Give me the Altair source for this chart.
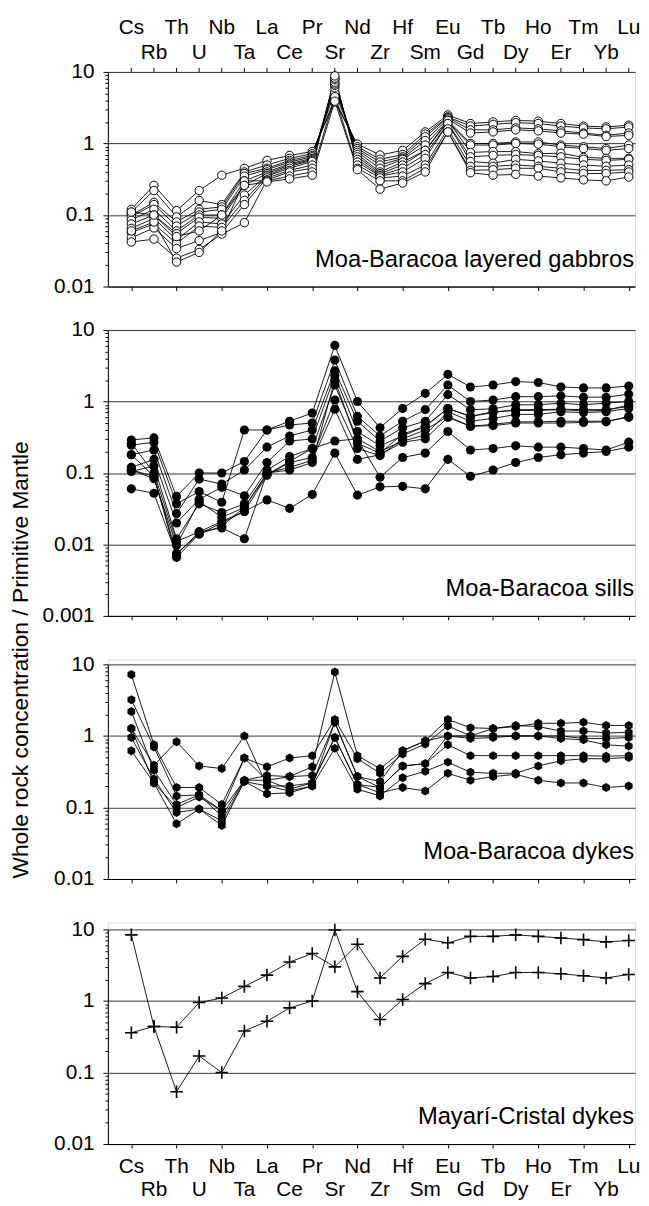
import altair as alt
import pandas as pd

elements = ["Cs", "Rb", "Th", "U", "Nb", "Ta", "La", "Ce", "Pr", "Sr", "Nd", "Zr",
            "Hf", "Sm", "Eu", "Gd", "Tb", "Dy", "Ho", "Er", "Tm", "Yb", "Lu"]
positions = list(range(1, 24))

# Moa-Baracoa layered gabbros (open circles)
gabbros = {
    "g1": [0.12, 0.26, 0.115, 0.22, 0.36, 0.45, 0.58, 0.68, 0.77, 3.8, 0.98, 0.69, 0.8, 1.45, 2.5, 1.9, 2.0, 2.1, 2.05, 1.9, 1.75, 1.7, 1.8],
    "g2": [0.11, 0.22, 0.094, 0.16, 0.14, 0.4, 0.5, 0.62, 0.72, 4.2, 0.9, 0.6, 0.7, 1.35, 2.35, 1.75, 1.85, 1.95, 1.9, 1.75, 1.65, 1.6, 1.7],
    "g3": [0.1, 0.15, 0.08, 0.12, 0.13, 0.38, 0.45, 0.58, 0.68, 5.2, 0.85, 0.55, 0.65, 1.24, 2.3, 1.55, 1.55, 1.65, 1.6, 1.5, 1.4, 1.3, 1.4],
    "g4": [0.095, 0.14, 0.07, 0.11, 0.12, 0.35, 0.43, 0.55, 0.65, 6.0, 0.8, 0.5, 0.62, 1.1, 2.2, 1.4, 1.45, 1.55, 1.5, 1.4, 1.35, 1.25, 1.3],
    "g5": [0.085, 0.12, 0.06, 0.1, 0.1, 0.3, 0.4, 0.52, 0.62, 6.5, 0.75, 0.45, 0.6, 0.95, 2.1, 1.0, 1.0, 1.05, 1.05, 0.95, 0.9, 0.85, 0.95],
    "g6": [0.075, 0.1, 0.055, 0.093, 0.09, 0.26, 0.38, 0.5, 0.6, 6.8, 0.7, 0.4, 0.55, 0.8, 2.0, 0.95, 0.95, 1.0, 0.98, 0.9, 0.85, 0.8, 0.85],
    "g7": [0.065, 0.09, 0.045, 0.08, 0.075, 0.19, 0.36, 0.48, 0.58, 7.2, 0.65, 0.38, 0.5, 0.8, 2.1, 0.75, 0.77, 0.77, 0.72, 0.73, 0.64, 0.62, 0.62],
    "g8": [0.057, 0.075, 0.04, 0.07, 0.067, 0.16, 0.35, 0.45, 0.56, 7.8, 0.6, 0.36, 0.45, 0.7, 1.9, 0.65, 0.68, 0.7, 0.68, 0.65, 0.6, 0.58, 0.6],
    "g9": [0.048, 0.066, 0.034, 0.044, 0.057, 0.14, 0.33, 0.42, 0.5, 8.2, 0.55, 0.35, 0.4, 0.62, 1.9, 0.56, 0.53, 0.6, 0.57, 0.53, 0.5, 0.48, 0.5],
    "g10": [0.042, 0.046, 0.025, 0.033, 0.054, 0.078, 0.31, 0.4, 0.45, 8.8, 0.5, 0.33, 0.35, 0.5, 1.6, 0.48, 0.48, 0.5, 0.48, 0.45, 0.42, 0.42, 0.43],
    "g11": [0.06, 0.08, 0.022, 0.03, 0.06, 0.3, 0.3, 0.35, 0.4, 4.5, 0.45, 0.3, 0.3, 0.45, 1.45, 0.42, 0.43, 0.45, 0.45, 0.4, 0.38, 0.38, 0.4],
    "g12": [0.11, 0.1, 0.05, 0.06, 0.1, 0.26, 0.29, 0.32, 0.36, 3.9, 0.43, 0.23, 0.28, 0.4, 1.45, 0.39, 0.36, 0.37, 0.35, 0.33, 0.31, 0.3, 0.34],
}

# Moa-Baracoa sills (filled circles)
sills = {
    "s1": [0.29, 0.31, 0.047, 0.1, 0.1, 0.145, 0.4, 0.53, 0.69, 6.1, 1.0, 0.43, 0.8, 1.3, 2.4, 1.6, 1.7, 1.9, 1.85, 1.6, 1.55, 1.55, 1.65],
    "s2": [0.245, 0.27, 0.037, 0.055, 0.039, 0.4, 0.4, 0.47, 0.5, 3.8, 0.62, 0.33, 0.53, 0.77, 1.7, 1.0, 1.05, 1.17, 1.17, 1.2, 1.15, 1.15, 1.27],
    "s3": [0.18, 0.21, 0.027, 0.082, 0.07, 0.11, 0.23, 0.33, 0.4, 2.7, 0.53, 0.28, 0.43, 0.53, 1.25, 0.77, 0.79, 0.9, 0.9, 0.95, 0.9, 0.95, 1.0],
    "s4": [0.12, 0.155, 0.02, 0.043, 0.063, 0.048, 0.14, 0.28, 0.3, 2.3, 0.38, 0.24, 0.33, 0.45, 0.8, 0.62, 0.7, 0.77, 0.77, 0.78, 0.77, 0.77, 0.85],
    "s5": [0.105, 0.125, 0.012, 0.037, 0.028, 0.037, 0.11, 0.17, 0.22, 1.7, 0.3, 0.2, 0.28, 0.34, 0.72, 0.53, 0.58, 0.66, 0.66, 0.72, 0.7, 0.72, 0.8],
    "s6": [0.26, 0.1, 0.011, 0.015, 0.021, 0.029, 0.093, 0.14, 0.165, 1.05, 0.22, 0.175, 0.3, 0.4, 0.62, 0.45, 0.46, 0.5, 0.5, 0.5, 0.51, 0.52, 0.62],
    "s7": [0.11, 0.083, 0.0097, 0.04, 0.024, 0.033, 0.1, 0.12, 0.15, 0.78, 0.155, 0.18, 0.27, 0.3, 0.6, 0.45, 0.48, 0.52, 0.52, 0.53, 0.53, 0.53, 0.6],
    "s8": [0.06, 0.052, 0.0072, 0.015, 0.017, 0.012, 0.1, 0.11, 0.14, 2.0, 0.26, 0.19, 0.35, 0.45, 0.8, 0.62, 0.72, 0.75, 0.75, 0.77, 0.74, 0.75, 0.9],
    "s9": [0.18, 0.09, 0.0066, 0.014, 0.018, 0.033, 0.095, 0.145, 0.22, 0.28, 0.3, 0.087, 0.165, 0.19, 0.38, 0.21, 0.22, 0.24, 0.23, 0.23, 0.22, 0.21, 0.27],
    "s10": [0.11, 0.09, 0.0075, 0.014, 0.02, 0.029, 0.042, 0.032, 0.05, 0.19, 0.049, 0.064, 0.065, 0.06, 0.155, 0.09, 0.11, 0.14, 0.165, 0.18, 0.19, 0.2, 0.23],
}

# Moa-Baracoa dykes (filled hexagons)
moa_dykes = {
    "d1": [7.2, 0.75, 0.19, 0.19, 0.11, 0.49, 0.24, 0.27, 0.37, 7.8, 0.53, 0.35, 0.62, 0.85, 1.7, 1.3, 1.27, 1.35, 1.5, 1.5, 1.55, 1.4, 1.4],
    "d2": [3.2, 0.7, 0.145, 0.15, 0.09, 0.49, 0.37, 0.49, 0.53, 1.7, 0.48, 0.3, 0.56, 0.77, 1.38, 1.0, 1.27, 1.4, 1.35, 1.17, 1.17, 1.1, 1.12],
    "d3": [2.2, 0.33, 0.11, 0.15, 0.075, 0.24, 0.28, 0.27, 0.28, 1.55, 0.27, 0.23, 0.62, 0.85, 1.0, 1.0, 1.0, 1.0, 1.0, 0.92, 0.88, 0.75, 0.72],
    "d4": [1.27, 0.39, 0.83, 0.38, 0.35, 1.0, 0.2, 0.2, 0.22, 0.95, 0.21, 0.19, 0.38, 0.41, 1.0, 0.92, 0.95, 1.0, 1.0, 1.0, 0.92, 0.92, 0.95],
    "d5": [0.95, 0.25, 0.085, 0.095, 0.056, 0.23, 0.2, 0.17, 0.2, 1.55, 0.27, 0.19, 0.38, 0.41, 0.75, 0.53, 0.53, 0.53, 0.53, 0.53, 0.53, 0.52, 0.53],
    "d6": [0.62, 0.22, 0.059, 0.095, 0.065, 0.23, 0.155, 0.16, 0.2, 0.67, 0.18, 0.145, 0.26, 0.32, 0.43, 0.31, 0.3, 0.3, 0.38, 0.45, 0.48, 0.48, 0.5],
    "d7": [1.27, 0.22, 0.1, 0.14, 0.09, 0.24, 0.24, 0.18, 0.22, 0.95, 0.21, 0.16, 0.19, 0.17, 0.3, 0.24, 0.27, 0.29, 0.24, 0.22, 0.22, 0.19, 0.2],
}

# Mayarí-Cristal dykes (crosses)
mayari_dykes = {
    "m1": [0.36, 0.44, 0.43, 0.95, 1.1, 1.6, 2.3, 3.5, 4.6, 3.0, 6.2, 2.1, 4.2, 7.3, 6.5, 8.0, 8.0, 8.4, 8.0, 7.6, 7.2, 6.7, 7.0],
    "m2": [8.4, 0.44, 0.054, 0.17, 0.1, 0.38, 0.52, 0.8, 1.0, 9.8, 1.35, 0.55, 1.05, 1.75, 2.5, 2.1, 2.2, 2.5, 2.5, 2.4, 2.25, 2.1, 2.35],
}

panel_labels = ["Moa-Baracoa layered gabbros", "Moa-Baracoa sills",
                "Moa-Baracoa dykes", "Mayarí-Cristal dykes"]
y_title = "Whole rock concentration / Primitive Mantle"

FONT = "Liberation Sans"
ELF = 21      # element label size
LAB = 21      # y tick label size
ANN = 24      # panel annotation size
W = 533
XDOM = [-0.037, 23.28]
DEC_TEST = "indexof([10,1,0.1,0.01,0.001], datum.value) >= 0"

HEX = "M0,-1L0.866,-0.5L0.866,0.5L0,1L-0.866,0.5L-0.866,-0.5Z"
PLUS = "M-1,0L1,0M0,-1L0,1"


def long_df(samples):
    rows = []
    for name, vals in samples.items():
        for p, e, v in zip(positions, elements, vals):
            rows.append({"sample": name, "pos": p, "el": e, "value": v})
    return pd.DataFrame(rows)


def yvalues(lo):
    vals = []
    d = lo
    while d < 9.99:
        for k in range(1, 10):
            vals.append(round(d * k, 6))
        d = round(d * 10, 6)
    vals.append(10)
    return vals


lab_df = pd.DataFrame({"pos": positions, "el": elements,
                       "row": [i % 2 for i in range(len(elements))]})
row0 = lab_df[lab_df.row == 0]
row1 = lab_df[lab_df.row == 1]


def panel(samples, height, lo, marker, label, off=0, top=False, bottom=False, title=False):
    """off = blank band at the top of the view, so panel gaps can differ."""
    df = long_df(samples)
    xs = alt.Scale(domain=XDOM, nice=False, zero=False)
    ys = alt.Scale(type="log", domain=[lo, 10], nice=False, range=[height + off, off])
    yaxis_kw = dict(
        values=yvalues(lo),
        labelExpr=f"{DEC_TEST} ? datum.value : ''",
        labelOverlap=False,
        labelFont=FONT, labelFontSize=LAB, labelColor="black",
        labelPadding=9,
        tickSize={"condition": {"test": DEC_TEST, "value": 5}, "value": 3},
        tickColor="black", tickWidth=1,
        domainColor="black", domainWidth=1,
        grid=True, gridColor="#333333", gridWidth=1,
        gridOpacity={"condition": {"test": DEC_TEST, "value": 1}, "value": 0},
        title=None,
    )
    if title:
        yaxis_kw.update(title=y_title, titleFont=FONT, titleFontSize=23,
                        titleFontWeight="normal", titleColor="black",
                        titleAngle=270, titleAlign="center", titleBaseline="middle",
                        titleX=-88, titleY=off + 333)
    x = alt.X("pos:Q", scale=xs,
              axis=alt.Axis(values=positions, labels=False, tickSize=4, tickColor="black",
                            domainColor="black", grid=False, title=None))
    y = alt.Y("value:Q", scale=ys, axis=alt.Axis(**yaxis_kw))
    base = alt.Chart(df)
    lines = base.mark_line(color="black", strokeWidth=0.9).encode(x=x, y=y, detail="sample:N")
    if marker == "open":
        pts = base.mark_point(shape="circle", filled=True, fill="white", stroke="black",
                              strokeWidth=1, size=72, opacity=1)
    elif marker == "filled":
        pts = base.mark_point(shape="circle", filled=True, color="black", size=85, opacity=1)
    elif marker == "hex":
        pts = base.mark_point(shape=HEX, filled=True, color="black", size=82, opacity=1)
    else:
        pts = base.mark_point(shape=PLUS, filled=False, stroke="black", strokeWidth=1.6,
                              size=160, opacity=1)
    pts = pts.encode(x=alt.X("pos:Q", scale=xs), y=alt.Y("value:Q", scale=ys))
    txt = alt.Chart(pd.DataFrame({"t": [label]})).mark_text(
        align="right", baseline="alphabetic", font=FONT, fontSize=ANN, color="black"
    ).encode(text="t:N", x=alt.value(W - 1), y=alt.value(off + height - 20))
    layers = [lines, pts, txt]
    if top:
        ticks = alt.Chart(lab_df).mark_rule(color="black", strokeWidth=1).encode(
            x=alt.X("pos:Q", scale=xs), y=alt.value(off), y2=alt.value(off - 4))
        t0 = alt.Chart(row0).mark_text(font=FONT, fontSize=ELF, baseline="middle",
                                       color="black").encode(
            x=alt.X("pos:Q", scale=xs), y=alt.value(off - 44), text="el:N")
        t1 = alt.Chart(row1).mark_text(font=FONT, fontSize=ELF, baseline="middle",
                                       color="black").encode(
            x=alt.X("pos:Q", scale=xs), y=alt.value(off - 19), text="el:N")
        layers += [ticks, t0, t1]
    if bottom:
        b0 = alt.Chart(row0).mark_text(font=FONT, fontSize=ELF, baseline="middle",
                                       color="black").encode(
            x=alt.X("pos:Q", scale=xs), y=alt.value(off + height + 23.5), text="el:N")
        b1 = alt.Chart(row1).mark_text(font=FONT, fontSize=ELF, baseline="middle",
                                       color="black").encode(
            x=alt.X("pos:Q", scale=xs), y=alt.value(off + height + 46.5), text="el:N")
        layers += [b0, b1]
    return alt.layer(*layers).properties(width=W, height=height + off)


p1 = panel(gabbros, 217, 0.01, "open", panel_labels[0], off=0, top=True)
p2 = panel(sills, 289, 0.001, "filled", panel_labels[1], off=0, title=True)
p3 = panel(moa_dykes, 217, 0.01, "hex", panel_labels[2], off=5)
p4 = panel(mayari_dykes, 217, 0.01, "plus", panel_labels[3], off=7, bottom=True)

chart = alt.vconcat(p1, p2, p3, p4, spacing=44, bounds="flush").properties(
    padding={"left": 1, "top": 2, "right": 0, "bottom": 0}
).configure_view(stroke=None).configure(background="white")

chart.save("out.html", embed_options={"renderer": "svg", "actions": False})
